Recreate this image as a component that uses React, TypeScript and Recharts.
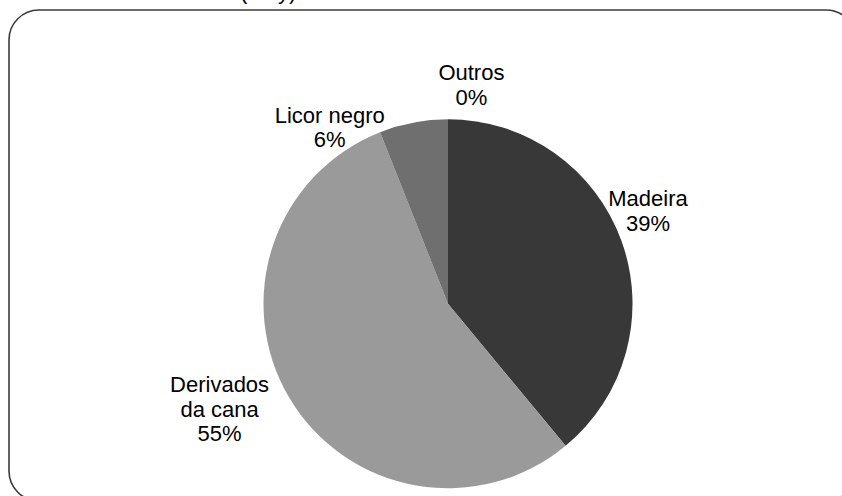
import React from "react"
import { PieChart, Pie, Cell } from "recharts"

const categories = ["Madeira", "Derivados da cana", "Licor negro", "Outros"]
const shares = [39, 55, 6, 0]
const COLORS = ["#383838", "#9a9a9a", "#6f6f6f", "#505050"]

// label placement, in units of the outer radius from the pie centre (x of text centre, y of first baseline)
const LABEL_OFFSETS = [
  [1.084, -0.53],
  [-1.238, 0.48],
  [-0.641, -0.981],
  [0.127, -1.212],
]

const data = categories.map((name, i) => ({ name, value: shares[i] }))
const total = shares.reduce((a, b) => a + b, 0)

const W = 842
const H = 496

function wrap(name: string) {
  if (name.length <= 12) return [name]
  const i = name.indexOf(" ")
  return [name.slice(0, i), name.slice(i + 1)]
}

function renderLabel(props: any) {
  const { cx, cy, outerRadius, index } = props
  const [ox, oy] = LABEL_OFFSETS[index]
  const x = cx + ox * outerRadius
  const y = cy + oy * outerRadius
  const pct = Math.round((shares[index] / total) * 100)
  const lines = [...wrap(categories[index]), `${pct}%`]
  return (
    <text
      key={`lbl-${index}`}
      x={x}
      y={y}
      textAnchor="middle"
      fontFamily="'Liberation Sans', Arial, sans-serif"
      fontSize={22}
      fill="#000"
    >
      {lines.map((l, j) => (
        <tspan key={j} x={x} dy={j === 0 ? 0 : 24.6}>
          {l}
        </tspan>
      ))}
    </text>
  )
}

export default function App() {
  return (
    <div style={{ position: "absolute", left: 0, top: 0, width: W, height: H, overflow: "hidden", background: "#fff" }}>
      <svg width={W} height={H} style={{ position: "absolute", left: 0, top: 0 }}>
        <rect x={9} y={10} width={847} height={491} rx={30} ry={30} fill="none" stroke="#3c3c3c" strokeWidth={1.6} />
        <text x={240} y={-1} fontFamily="'Liberation Sans', Arial, sans-serif" fontSize={22} fill="#000">
          (Mt/y)
        </text>
      </svg>
      <div style={{ position: "absolute", left: 0, top: 0 }}>
        <PieChart width={W} height={H} margin={{ top: 0, right: 0, bottom: 0, left: 0 }}>
          <Pie
            data={data}
            dataKey="value"
            nameKey="name"
            cx={448}
            cy={303.7}
            outerRadius={184.5}
            startAngle={90}
            endAngle={-270}
            stroke="none"
            labelLine={false}
            label={renderLabel}
            isAnimationActive={false}
          >
            {data.map((entry, index) => (
              <Cell key={`cell-${index}`} fill={COLORS[index % COLORS.length]} />
            ))}
          </Pie>
        </PieChart>
      </div>
    </div>
  )
}
